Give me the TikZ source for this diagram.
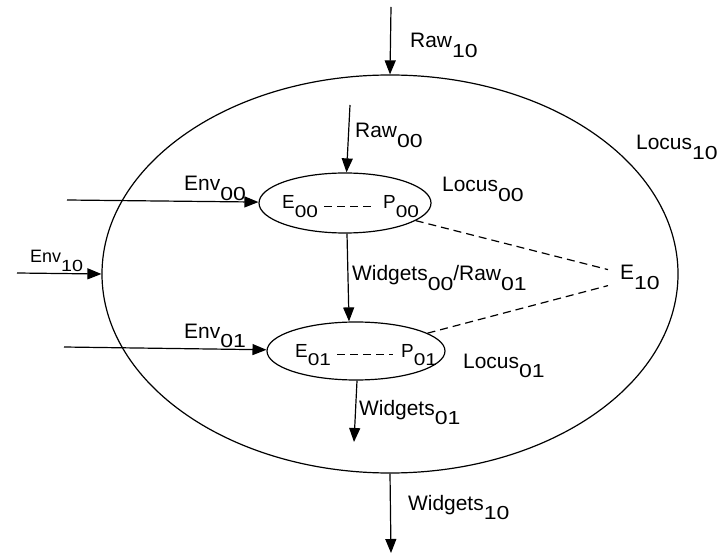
\documentclass[tikz,border=0pt]{standalone}
\usepackage{fontspec}
\setmainfont{Liberation Sans}
\usetikzlibrary{arrows.meta,shapes.geometric,calc}
\newcommand\dsub[1]{\raisebox{-0.45em}{\scalebox{1.1}[0.9]{#1}}}
\tikzset{
  lbl/.style={font=\fontsize{21}{25}\selectfont, inner sep=0pt, anchor=base west},
  lblsm/.style={font=\fontsize{18}{22}\selectfont, inner sep=0pt, anchor=base west},
  inlbl/.style={font=\fontsize{19}{23}\selectfont, inner sep=2pt, anchor=base west},
  oval/.style={draw, ellipse, inner sep=0pt, line width=1.2bp},
  arr/.style={-{Triangle[length=14bp,width=11bp]}, line width=1.2bp},
  dsh/.style={line width=1.2bp, dash pattern=on 8bp off 5bp}
}
\begin{document}
\begin{tikzpicture}[x=1bp,y=-1bp]
\useasboundingbox (0,0) rectangle (719,555);
% ellipses
\node[oval, minimum width=576bp, minimum height=398bp] (big) at (390,274) {};
\node[oval, minimum width=172bp, minimum height=60bp] (e1) at (345,203) {};
\node[oval, minimum width=178bp, minimum height=58bp] (e2) at (356,351) {};
% inner labels
\node[inlbl] (E00) at (280,209) {E\dsub{00}};
\node[inlbl] (P00) at (381,209) {P\dsub{00}};
\node[inlbl] (E01) at (293,357) {E\dsub{01}};
\node[inlbl] (P01) at (399,357) {P\dsub{01}};
\node[lbl, inner sep=2pt] (E10) at (618,280) {E\dsub{10}};
\draw[dsh, shorten <=4bp, shorten >=6bp] (E00) -- (P00);
\draw[dsh, shorten <=4bp, shorten >=6bp] (E01) -- (P01);
\draw[dsh] (e1.-14) -- ($(E10.west)+(-10,-8)$);
\draw[dsh] (e2.14) -- ($(E10.west)+(-10,8)$);
% free ends
\coordinate (r10s) at (391,7);
\coordinate (r00s) at (350,105);
\coordinate (env00s) at (67,200);
\coordinate (env10s) at (17,273);
\coordinate (env01s) at (64,347);
\coordinate (w01e) at (354,442);
\coordinate (w10e) at (391,553);
% arrows
\draw[arr] (r10s) -- (big.north);
\draw[arr] (r00s) -- (e1);
\draw[arr] (env00s) -- (e1);
\draw[arr] (env10s) -- (big.west);
\draw[arr] (env01s) -- (e2);
\draw[arr] ([xshift=2bp]e1.south) -- ([xshift=-7bp]e2.north);
\draw[arr] ([xshift=1bp]e2.south) -- (w01e);
\draw[arr] (big.south) -- (w10e);
% labels
\node[lbl] (lraw10) at (410,48) {Raw\dsub{10}};
\node[lbl] (lraw00) at (355,138) {Raw\dsub{00}};
\node[lbl] (llocus10) at (636,150) {Locus\dsub{10}};
\node[lbl] (llocus00) at (442,192) {Locus\dsub{00}};
\node[lbl] (lenv00) at (184,191) {Env\dsub{00}};
\node[lblsm] (lenv10) at (30,263) {Env\dsub{10}};
\node[lbl] (lenv01) at (184,338) {Env\dsub{01}};
\node[lbl] (lw00) at (352,281) {Widgets\dsub{00}/Raw\dsub{01}};
\node[lbl] (llocus01) at (463,368) {Locus\dsub{01}};
\node[lbl] (lw01) at (359,415) {Widgets\dsub{01}};
\node[lbl] (lw10) at (408,510) {Widgets\dsub{10}};
\end{tikzpicture}
\end{document}
